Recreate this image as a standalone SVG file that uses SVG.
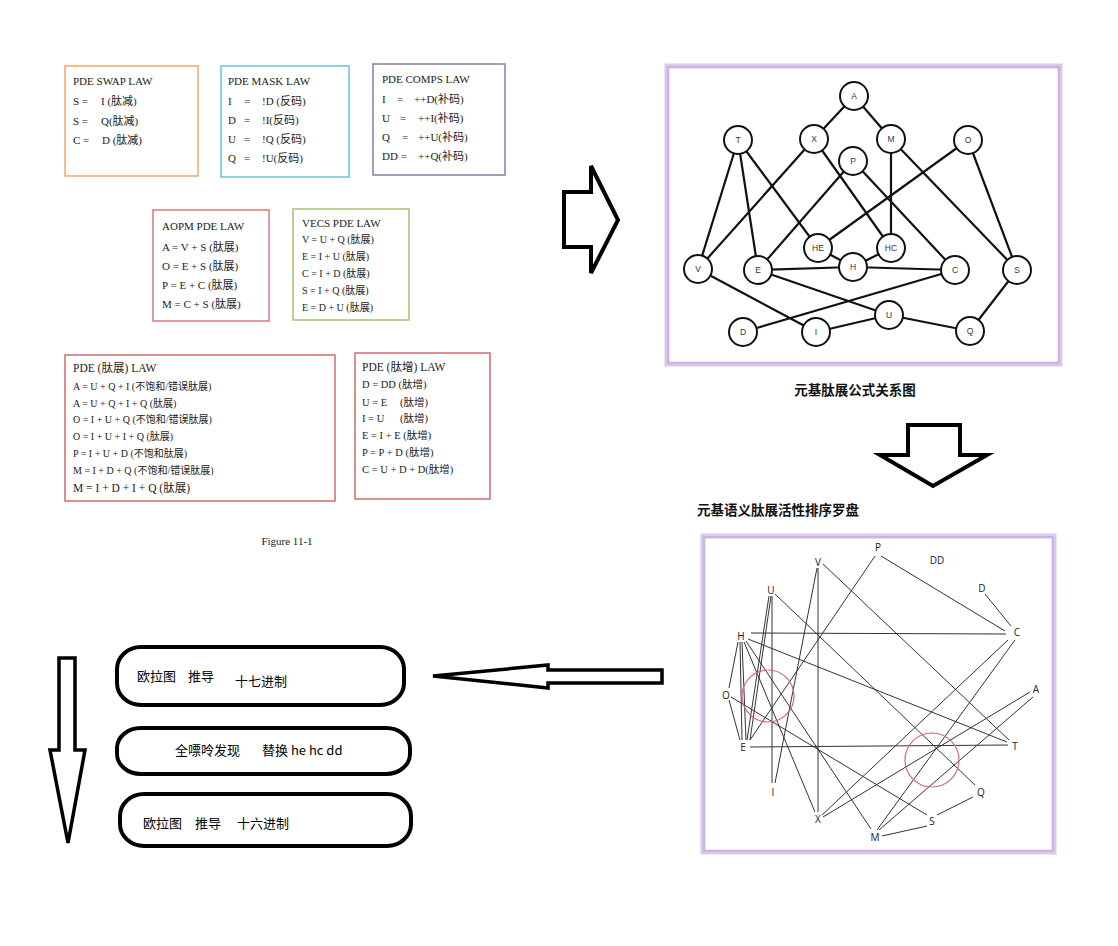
<svg xmlns="http://www.w3.org/2000/svg" width="1118" height="946" viewBox="0 0 1118 946">
<style>
.law{fill:#fff;stroke-width:1.5}
.st{font-family:"Liberation Serif","Noto Sans CJK SC",serif;fill:#222}
.t11{font-size:11px}
.t10{font-size:10px}
.gedge line{stroke:#111;stroke-width:2.2}
.gnode circle{fill:#fff;stroke:#111;stroke-width:2}
.gnode text{font-family:"Liberation Sans","Noto Sans",sans-serif;font-size:8.5px;fill:#333;text-anchor:middle}
.cedge line{stroke:#333;stroke-width:1}
.clab text{font-family:"Open Sans","Liberation Sans",sans-serif;font-size:10px;fill:#222;text-anchor:middle}
.panel{fill:#fff;stroke:#d8caee;stroke-width:5}
.panel-in{fill:none;stroke:#c2acdf;stroke-width:1.5}
.arrow{fill:#fff;stroke:#000;stroke-linejoin:miter}
.rbox{fill:#fff;stroke:#000;stroke-width:4}
.cn{font-family:"Noto Sans CJK SC","Liberation Sans",sans-serif;font-size:13px;fill:#000}
.cap{font-family:"Noto Sans CJK SC",sans-serif;font-size:13.5px;font-weight:bold;fill:#111}
</style>
<rect width="1118" height="946" fill="#fff"/>

<!-- Law boxes -->
<g id="swap" class="st t11">
<rect class="law" x="65" y="66" width="133" height="110" stroke="#f2a66a"/>
<text x="73" y="85">PDE SWAP LAW</text>
<text y="105"><tspan x="73">S =</tspan><tspan x="101">I (肽减)</tspan></text>
<text y="125"><tspan x="73">S =</tspan><tspan x="101">Q(肽减)</tspan></text>
<text y="144"><tspan x="73">C =</tspan><tspan x="102">D (肽减)</tspan></text>
</g>
<g id="mask" class="st t11">
<rect class="law" x="221" y="66" width="128" height="111" stroke="#6cc3cf"/>
<text x="228" y="85">PDE MASK LAW</text>
<text y="105"><tspan x="228">I</tspan><tspan x="244">=</tspan><tspan x="262">!D (反码)</tspan></text>
<text y="124"><tspan x="228">D</tspan><tspan x="244">=</tspan><tspan x="262">!I(反码)</tspan></text>
<text y="143"><tspan x="228">U</tspan><tspan x="244">=</tspan><tspan x="262">!Q (反码)</tspan></text>
<text y="162"><tspan x="228">Q</tspan><tspan x="244">=</tspan><tspan x="262">!U(反码)</tspan></text>
</g>
<g id="comps" class="st t11">
<rect class="law" x="373" y="64" width="132" height="111" stroke="#8b7aa8"/>
<text x="382" y="83">PDE COMPS LAW</text>
<text y="103"><tspan x="382">I</tspan><tspan x="397">=</tspan><tspan x="414">++D(补码)</tspan></text>
<text y="122"><tspan x="382">U</tspan><tspan x="400">=</tspan><tspan x="418">++I(补码)</tspan></text>
<text y="141"><tspan x="382">Q</tspan><tspan x="402">=</tspan><tspan x="418">++U(补码)</tspan></text>
<text y="160"><tspan x="382">DD =</tspan><tspan x="418">++Q(补码)</tspan></text>
</g>
<g id="aopm" class="st t11">
<rect class="law" x="153" y="210" width="116" height="111" stroke="#d9787e"/>
<text x="162" y="230">AOPM PDE LAW</text>
<text x="162" y="251">A = V + S (肽展)</text>
<text x="162" y="270">O = E + S (肽展)</text>
<text x="162" y="289">P = E + C (肽展)</text>
<text x="162" y="308">M = C + S (肽展)</text>
</g>
<g id="vecs" class="st t10">
<rect class="law" x="293" y="209" width="116" height="111" stroke="#a9c271"/>
<text x="302" y="227" font-size="11">VECS PDE LAW</text>
<text x="302" y="243">V = U + Q (肽展)</text>
<text x="302" y="260">E = I + U (肽展)</text>
<text x="302" y="277">C = I + D (肽展)</text>
<text x="302" y="294">S = I + Q (肽展)</text>
<text x="302" y="311">E = D + U (肽展)</text>
</g>
<g id="zhan" class="st t10">
<rect class="law" x="65" y="355" width="270" height="146" stroke="#d46a6e"/>
<text x="73" y="372" font-size="11.5">PDE (肽展) LAW</text>
<text x="73" y="390">A = U + Q + I (不饱和/错误肽展)</text>
<text x="73" y="407">A = U + Q + I + Q (肽展)</text>
<text x="73" y="423">O = I + U + Q (不饱和/错误肽展)</text>
<text x="73" y="440">O = I + U + I + Q (肽展)</text>
<text x="73" y="457">P = I + U + D (不饱和肽展)</text>
<text x="73" y="474">M = I + D + Q (不饱和/错误肽展)</text>
<text x="73" y="492" font-size="11.5">M = I + D + I + Q (肽展)</text>
</g>
<g id="zeng" class="st" font-size="10.5">
<rect class="law" x="355" y="353" width="135" height="146" stroke="#d46a6e"/>
<text x="362" y="371" font-size="11.5">PDE (肽增) LAW</text>
<text x="362" y="388">D = DD (肽增)</text>
<text y="406"><tspan x="362">U = E</tspan><tspan x="400">(肽增)</tspan></text>
<text y="422"><tspan x="362">I = U</tspan><tspan x="400">(肽增)</tspan></text>
<text x="362" y="439">E = I + E (肽增)</text>
<text x="362" y="456">P = P + D (肽增)</text>
<text x="362" y="473">C = U + D + D(肽增)</text>
</g>
<text id="figcap" class="st t11" x="287" y="545" text-anchor="middle">Figure 11-1</text>

<!-- Arrows -->
<g id="arrows">
<polygon id="arrow-right" class="arrow" stroke-width="4" points="564,192 591,192 591,166 618,220 591,273 591,247 564,247"/>
<polygon id="arrow-down-right" class="arrow" stroke-width="4" points="908,425 960,425 960,455 987,455 933,486 880,455 908,455"/>
<polygon id="arrow-left" class="arrow" stroke-width="3.5" points="433,676 548,665 548,670 662,670 662,683 548,683 548,688"/>
<polygon id="arrow-down-left" class="arrow" stroke-width="3.5" points="59,658 75,658 75,750 85,750 68,843 50,750 59,750"/>
</g>

<!-- Graph panel -->
<rect class="panel" x="667" y="66" width="393" height="298"/>
<rect class="panel-in" x="668" y="67" width="391" height="296"/>
<g id="graph-edges" class="gedge">
<line x1="854" y1="96" x2="814" y2="139"/>
<line x1="854" y1="96" x2="891" y2="139"/>
<line x1="738" y1="140" x2="698" y2="269"/>
<line x1="738" y1="140" x2="758" y2="270"/>
<line x1="738" y1="140" x2="818" y2="248"/>
<line x1="814" y1="139" x2="698" y2="269"/>
<line x1="814" y1="139" x2="891" y2="248"/>
<line x1="891" y1="139" x2="891" y2="248"/>
<line x1="891" y1="139" x2="1017" y2="270"/>
<line x1="968" y1="140" x2="818" y2="248"/>
<line x1="968" y1="140" x2="1017" y2="270"/>
<line x1="853" y1="161" x2="758" y2="270"/>
<line x1="853" y1="161" x2="955" y2="270"/>
<line x1="818" y1="248" x2="853" y2="267"/>
<line x1="891" y1="248" x2="853" y2="267"/>
<line x1="758" y1="270" x2="853" y2="267"/>
<line x1="853" y1="267" x2="955" y2="270"/>
<line x1="758" y1="270" x2="889" y2="315"/>
<line x1="955" y1="270" x2="743" y2="332"/>
<line x1="698" y1="269" x2="816" y2="332"/>
<line x1="816" y1="332" x2="889" y2="315"/>
<line x1="889" y1="315" x2="970" y2="331"/>
<line x1="1017" y1="270" x2="970" y2="331"/>
</g>
<g id="g-A" class="gnode"><circle cx="854" cy="96" r="14"/><text x="854" y="99">A</text></g>
<g id="g-T" class="gnode"><circle cx="738" cy="140" r="14"/><text x="738" y="143">T</text></g>
<g id="g-X" class="gnode"><circle cx="814" cy="139" r="14"/><text x="814" y="142">X</text></g>
<g id="g-M" class="gnode"><circle cx="891" cy="139" r="14"/><text x="891" y="142">M</text></g>
<g id="g-O" class="gnode"><circle cx="968" cy="140" r="14"/><text x="968" y="143">O</text></g>
<g id="g-P" class="gnode"><circle cx="853" cy="161" r="14"/><text x="853" y="164">P</text></g>
<g id="g-HE" class="gnode"><circle cx="818" cy="248" r="14"/><text x="818" y="251">HE</text></g>
<g id="g-HC" class="gnode"><circle cx="891" cy="248" r="14"/><text x="891" y="251">HC</text></g>
<g id="g-H" class="gnode"><circle cx="853" cy="267" r="14"/><text x="853" y="270">H</text></g>
<g id="g-V" class="gnode"><circle cx="698" cy="269" r="14"/><text x="698" y="272">V</text></g>
<g id="g-E" class="gnode"><circle cx="758" cy="270" r="14"/><text x="758" y="273">E</text></g>
<g id="g-C" class="gnode"><circle cx="955" cy="270" r="14"/><text x="955" y="273">C</text></g>
<g id="g-S" class="gnode"><circle cx="1017" cy="270" r="14"/><text x="1017" y="273">S</text></g>
<g id="g-U" class="gnode"><circle cx="889" cy="315" r="14"/><text x="889" y="318">U</text></g>
<g id="g-D" class="gnode"><circle cx="743" cy="332" r="14"/><text x="743" y="335">D</text></g>
<g id="g-I" class="gnode"><circle cx="816" cy="332" r="14"/><text x="816" y="335">I</text></g>
<g id="g-Q" class="gnode"><circle cx="970" cy="331" r="14"/><text x="970" y="334">Q</text></g>
<text class="cap" x="855" y="395" text-anchor="middle">元基肽展公式关系图</text>

<!-- Compass -->
<text class="cap" x="697" y="515">元基语义肽展活性排序罗盘</text>
<rect class="panel" x="703" y="536" width="351" height="316"/>
<rect class="panel-in" x="704" y="537" width="349" height="314"/>
<g id="compass-edges" class="cedge">
<line x1="881" y1="556" x2="1005" y2="631"/>
<line x1="875" y1="556" x2="750" y2="740"/>
<line x1="985" y1="594" x2="1011" y2="626"/>
<line x1="751" y1="633" x2="1006" y2="634"/>
<line x1="823" y1="564" x2="1009" y2="740"/>
<line x1="818" y1="568" x2="818" y2="812"/>
<line x1="817" y1="568" x2="775" y2="783"/>
<line x1="775" y1="594" x2="975" y2="785"/>
<line x1="772" y1="596" x2="772" y2="783"/>
<line x1="769" y1="596" x2="747" y2="740"/>
<line x1="771" y1="596" x2="750" y2="740"/>
<line x1="748" y1="639" x2="1007" y2="742"/>
<line x1="738" y1="642" x2="729" y2="688"/>
<line x1="740" y1="642" x2="742" y2="740"/>
<line x1="742" y1="642" x2="746" y2="740"/>
<line x1="744" y1="642" x2="815" y2="812"/>
<line x1="746" y1="641" x2="871" y2="829"/>
<line x1="729" y1="700" x2="740" y2="740"/>
<line x1="731" y1="697" x2="927" y2="815"/>
<line x1="750" y1="747" x2="1008" y2="745"/>
<line x1="1008" y1="640" x2="822" y2="815"/>
<line x1="1015" y1="640" x2="877" y2="830"/>
<line x1="1030" y1="692" x2="823" y2="817"/>
<line x1="1033" y1="697" x2="879" y2="830"/>
<line x1="882" y1="836" x2="927" y2="826"/>
<line x1="937" y1="815" x2="973" y2="797"/>
</g>
<g id="compass-marks" fill="none" stroke="#d06a75" stroke-width="1.2">
<circle cx="768" cy="696" r="26"/>
<circle cx="932" cy="760" r="27"/>
</g>
<g id="compass-labels" class="clab">
<g id="c-P"><text x="878" y="551">P</text></g>
<g id="c-DD"><text x="937" y="564">DD</text></g>
<g id="c-V"><text x="818" y="566">V</text></g>
<g id="c-D"><text x="982" y="592">D</text></g>
<g id="c-U"><text x="771" y="594">U</text></g>
<g id="c-H"><text x="741" y="640">H</text></g>
<g id="c-C"><text x="1017" y="636">C</text></g>
<g id="c-O"><text x="726" y="699">O</text></g>
<g id="c-A"><text x="1036" y="693">A</text></g>
<g id="c-E"><text x="743" y="751">E</text></g>
<g id="c-T"><text x="1015" y="750">T</text></g>
<g id="c-I"><text x="773" y="796">I</text></g>
<g id="c-Q"><text x="981" y="796">Q</text></g>
<g id="c-X"><text x="818" y="823">X</text></g>
<g id="c-S"><text x="932" y="825">S</text></g>
<g id="c-M"><text x="875" y="841">M</text></g>
</g>

<!-- Bottom-left steps -->
<g id="step1">
<rect class="rbox" x="117" y="647" width="287" height="58" rx="24" ry="22"/>
<text class="cn" x="137" y="681">欧拉图</text>
<text class="cn" x="188" y="681">推导</text>
<text class="cn" x="235" y="686">十七进制</text>
</g>
<g id="step2">
<rect class="rbox" x="117" y="728" width="293" height="46" rx="24" ry="20"/>
<text class="cn" x="175" y="755">全嘌呤发现</text>
<text class="cn" x="262" y="755">替换 he hc dd</text>
</g>
<g id="step3">
<rect class="rbox" x="120" y="794" width="291" height="52" rx="24" ry="22"/>
<text class="cn" x="143" y="828">欧拉图</text>
<text class="cn" x="195" y="828">推导</text>
<text class="cn" x="237" y="828">十六进制</text>
</g>
</svg>
